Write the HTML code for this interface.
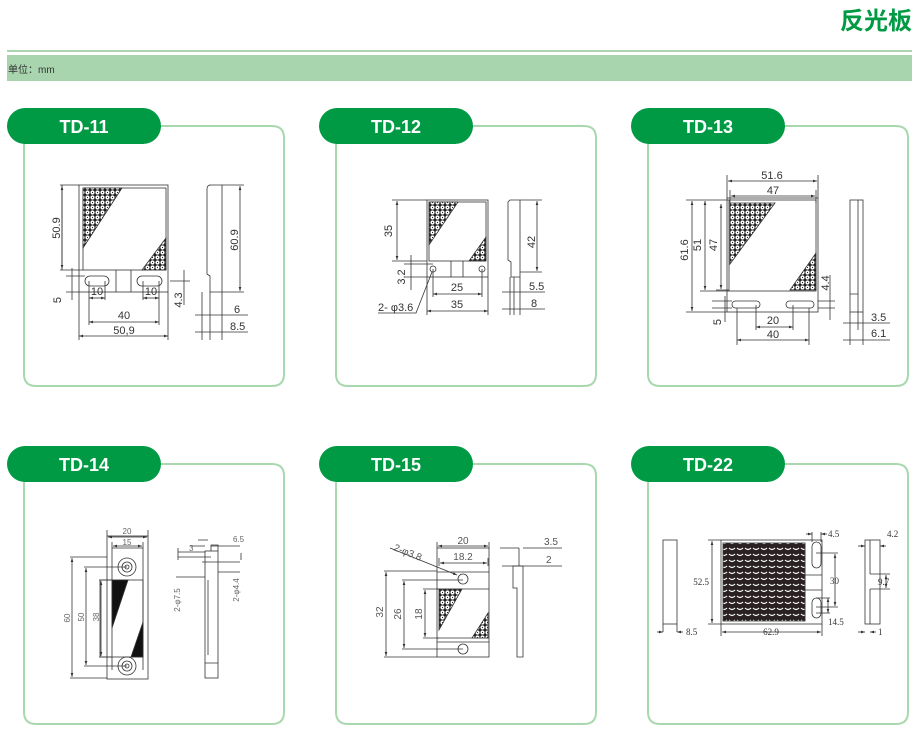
<!DOCTYPE html>
<html><head><meta charset="utf-8"><style>
body{margin:0;background:#fff;}
svg{display:block;font-family:"Liberation Sans","Noto Sans CJK SC",sans-serif;}
</style></head><body>
<svg width="922" height="739" viewBox="0 0 922 739" xmlns="http://www.w3.org/2000/svg">
<defs>
<marker id="a" viewBox="0 0 6 6" refX="6" refY="3" markerWidth="5" markerHeight="5" orient="auto-start-reverse"><path d="M0,1 L6,3 L0,5z" fill="#333"/></marker>
<pattern id="h" width="5" height="5" patternUnits="userSpaceOnUse"><rect width="5" height="5" fill="#222"/><circle cx="2.5" cy="2.5" r="2.1" fill="#fff"/><circle cx="2.5" cy="2.5" r="0.6" fill="#222"/></pattern>
<pattern id="c" width="8" height="6" patternUnits="userSpaceOnUse"><rect width="8" height="6" fill="#2a2222"/><path d="M1,2 Q4,5 7,2" stroke="#fff" stroke-width="1.2" fill="none"/></pattern>
</defs>
<!-- header -->
<text x="912" y="29" text-anchor="end" font-size="24" font-weight="bold" fill="#009a44" font-family="'Noto Sans CJK SC',sans-serif">反光板</text>
<rect x="7" y="50" width="905" height="2" fill="#a8d5ae"/>
<rect x="7" y="55" width="905" height="26" fill="#a8d5ae"/>
<text x="8" y="73" font-size="10" fill="#333">单位：mm</text>

<!-- panels -->
<g fill="none" stroke="#a8d8ad" stroke-width="2">
<path d="M160,126 H272 Q284,126 284,138 V374 Q284,386 272,386 H36 Q24,386 24,374 V143"/>
<path d="M472,126 H584 Q596,126 596,138 V374 Q596,386 584,386 H348 Q336,386 336,374 V143"/>
<path d="M784,126 H896 Q908,126 908,138 V374 Q908,386 896,386 H660 Q648,386 648,374 V143"/>
<path d="M160,464 H272 Q284,464 284,476 V712 Q284,724 272,724 H36 Q24,724 24,712 V481"/>
<path d="M472,464 H584 Q596,464 596,476 V712 Q596,724 584,724 H348 Q336,724 336,712 V481"/>
<path d="M784,464 H896 Q908,464 908,476 V712 Q908,724 896,724 H660 Q648,724 648,712 V481"/>
</g>
<g fill="#009a44">
<rect x="7" y="108" width="154" height="36" rx="18"/>
<rect x="319" y="108" width="154" height="36" rx="18"/>
<rect x="631" y="108" width="154" height="36" rx="18"/>
<rect x="7" y="446" width="154" height="36" rx="18"/>
<rect x="319" y="446" width="154" height="36" rx="18"/>
<rect x="631" y="446" width="154" height="36" rx="18"/>
</g>
<g fill="#fff" font-size="18" font-weight="bold" text-anchor="middle">
<text x="84" y="133">TD-11</text><text x="396" y="133">TD-12</text><text x="708" y="133">TD-13</text>
<text x="84" y="471">TD-14</text><text x="396" y="471">TD-15</text><text x="708" y="471">TD-22</text>
</g>

<g stroke="#333" stroke-width="0.8" fill="none" font-size="11">
<!-- TD-11 -->
<rect x="79" y="185" width="89" height="107"/>
<rect x="83" y="188" width="83" height="82"/>
<path d="M83,188 H122 L83,248Z" fill="url(#h)"/>
<path d="M166,238 V270 H142Z" fill="url(#h)"/>
<rect x="85" y="276" width="24" height="10" rx="5"/><rect x="137" y="276" width="25" height="10" rx="5"/>
<path d="M116,270 V292 M131,270 V292"/>
<path d="M60,185 H79 M60,270 H83 M62,185 V270" />
<line x1="62" y1="186" x2="62" y2="269" marker-start="url(#a)" marker-end="url(#a)"/>
<path d="M66,276 H85 M66,292 H79 M72,268 V300 M184,270 V305 M170,281 H190"/>
<path d="M89,281 V325 M105,281 V300 M143,281 V300 M159,281 V325 M79,292 V340 M168,292 V340"/>
<line x1="89" y1="298" x2="105" y2="298" marker-start="url(#a)" marker-end="url(#a)"/>
<line x1="143" y1="298" x2="159" y2="298" marker-start="url(#a)" marker-end="url(#a)"/>
<line x1="89" y1="322" x2="159" y2="322" marker-start="url(#a)" marker-end="url(#a)"/>
<line x1="79" y1="336" x2="168" y2="336" marker-start="url(#a)" marker-end="url(#a)"/>
<path d="M209,185 H222 V292 H210 V276 L207,274 V189 Q207,185 211,185Z"/>
<path d="M222,185 H244 M222,292 H244 M202,292 V340 M210,292 V340 M222,292 V340"/>
<line x1="240" y1="186" x2="240" y2="291" marker-start="url(#a)" marker-end="url(#a)"/>
<path d="M195,315 H248 M195,332 H248"/>
<!-- TD-12 -->
<rect x="427" y="200" width="61" height="77"/>
<rect x="429" y="202" width="57" height="59"/>
<path d="M429,202 H458 L429,245Z" fill="url(#h)"/>
<path d="M486,237 V261 H469Z" fill="url(#h)"/>
<circle cx="433" cy="269" r="3"/><circle cx="482" cy="269" r="3"/>
<path d="M451,261 V277 M463,261 V277"/>
<path d="M392,200 H427 M392,261 H427"/>
<line x1="397" y1="201" x2="397" y2="260" marker-start="url(#a)" marker-end="url(#a)"/>
<path d="M404,264 H433 M404,277 H427 M411,255 V290"/>
<path d="M433,269 V297 M482,269 V297 M427,277 V315 M488,277 V315"/>
<line x1="433" y1="294" x2="482" y2="294" marker-start="url(#a)" marker-end="url(#a)"/>
<line x1="427" y1="311" x2="488" y2="311" marker-start="url(#a)" marker-end="url(#a)"/>
<path d="M378,313 H416 L432,272"/>
<path d="M510,200 H520 V277 H511 V262 L508,260 V202Z"/>
<path d="M520,200 H542 M520,272 H542 M510,277 V315 M514,277 V315 M520,277 V315"/>
<line x1="537" y1="201" x2="537" y2="271" marker-start="url(#a)" marker-end="url(#a)"/>
<path d="M502,292 H545 M502,309 H545"/>
<!-- TD-13 -->
<rect x="727" y="198" width="91" height="114"/>
<rect x="729" y="200" width="87" height="91"/>
<path d="M730,203 H775 L730,264Z" fill="url(#h)"/>
<path d="M816,253 V290 H790Z" fill="url(#h)"/>
<rect x="732" y="301" width="28" height="7" rx="3.5"/><rect x="786" y="301" width="28" height="7" rx="3.5"/>
<path d="M727,175 V198 M818,175 V198 M730,190 V203 M816,190 V203"/>
<line x1="728" y1="181" x2="817" y2="181" marker-start="url(#a)" marker-end="url(#a)"/>
<line x1="731" y1="196" x2="815" y2="196" marker-start="url(#a)" marker-end="url(#a)"/>
<path d="M686,200 H729 M686,312 H727 M700,291 H729 M716,290 H729"/>
<line x1="692" y1="201" x2="692" y2="311" marker-start="url(#a)" marker-end="url(#a)"/>
<line x1="705" y1="201" x2="705" y2="290" marker-start="url(#a)" marker-end="url(#a)"/>
<line x1="721" y1="204" x2="721" y2="289" marker-start="url(#a)" marker-end="url(#a)"/>
<path d="M712,301 H732 M712,308 H732 M725,296 V322 M818,301 H835 M818,308 H835 M830,275 V320"/>
<path d="M756,305 V330 M793,305 V330 M737,308 V345 M809,308 V345"/>
<line x1="756" y1="327" x2="793" y2="327" marker-start="url(#a)" marker-end="url(#a)"/>
<line x1="737" y1="340" x2="809" y2="340" marker-start="url(#a)" marker-end="url(#a)"/>
<rect x="850" y="200" width="13" height="112"/><path d="M858,200 V312 M850,294 H858"/>
<path d="M850,312 V345 M858,312 V330 M863,312 V345 M843,323 H890 M843,340 H890"/>
<!-- TD-14 -->
<rect x="107" y="536" width="41" height="143"/>
<path d="M112,548 H143 V670 M112,548 V670"/>
<rect x="100" y="580" width="43" height="77"/>
<path d="M112,580 H128 L112,628Z" fill="#111"/><path d="M143,622 V657 H131Z" fill="#111"/>
<circle cx="127" cy="567" r="9"/><circle cx="127" cy="567" r="5"/><circle cx="127" cy="567" r="2"/>
<circle cx="127" cy="666" r="9"/><circle cx="127" cy="666" r="5"/><circle cx="127" cy="666" r="2"/>
<path d="M70,557 H107 M70,678 H107 M84,567 H127 M84,666 H127 M99,580 H112 M99,657 H112"/>
<line x1="72" y1="558" x2="72" y2="677" marker-start="url(#a)" marker-end="url(#a)"/>
<line x1="86" y1="568" x2="86" y2="665" marker-start="url(#a)" marker-end="url(#a)"/>
<line x1="101" y1="581" x2="101" y2="656" marker-start="url(#a)" marker-end="url(#a)"/>
<path d="M107,530 V536 M148,530 V536 M112,542 V548 M143,542 V548"/>
<line x1="108" y1="537" x2="147" y2="537" marker-start="url(#a)" marker-end="url(#a)"/>
<line x1="113" y1="546" x2="142" y2="546" marker-start="url(#a)" marker-end="url(#a)"/>
<rect x="205" y="551" width="13" height="127"/>
<path d="M211,551 V545 H218 V551 M208,580 V655 M205,663 H218"/>
<path d="M178,552 H205 M178,557 H211 M178,548 V560 M202,562 H240 M241,553 V560 M176,577 H205 M218,572 H240"/>
<path d="M190,546 H205 M211,546 H240 M198,540 H208"/>
<!-- TD-15 -->
<rect x="437" y="548" width="52" height="109"/>
<path d="M437,572 H489 M437,589 H489 M437,638 H489 M437,642 H489"/>
<path d="M439,589 H462 L439,630Z" fill="url(#h)"/><path d="M488,613 V638 H472Z" fill="url(#h)"/>
<circle cx="463" cy="579" r="5"/><circle cx="463" cy="649" r="5"/>
<path d="M384,571 H437 M384,657 H437 M402,580 H463 M402,649 H463 M423,589 H439 M423,638 H439"/>
<line x1="386" y1="572" x2="386" y2="656" marker-start="url(#a)" marker-end="url(#a)"/>
<line x1="404" y1="581" x2="404" y2="648" marker-start="url(#a)" marker-end="url(#a)"/>
<line x1="425" y1="590" x2="425" y2="637" marker-start="url(#a)" marker-end="url(#a)"/>
<path d="M437,542 V548 M489,542 V548 M439,558 V566 M488,558 V566"/>
<line x1="438" y1="546" x2="488" y2="546" marker-start="url(#a)" marker-end="url(#a)"/>
<line x1="440" y1="563" x2="487" y2="563" marker-start="url(#a)" marker-end="url(#a)"/>
<line x1="390" y1="548" x2="457" y2="575" marker-end="url(#a)"/>
<path d="M519,548 V566 H523 V657 H517 V588 H513 V566 H519 Z"/>
<path d="M500,548 H519 M523,548 H562 M502,566 H562"/>
<!-- TD-22 -->
<rect x="663" y="540" width="14" height="84"/>
<path d="M663,624 V632 M677,624 V632"/>
<line x1="657" y1="632" x2="663" y2="632" marker-end="url(#a)"/><line x1="683" y1="632" x2="677" y2="632" marker-end="url(#a)"/>
<rect x="721" y="540" width="101" height="84"/>
<rect x="723" y="543" width="82" height="78" fill="url(#c)"/>
<rect x="812" y="542" width="9" height="26" rx="4.5"/><rect x="812" y="598" width="9" height="20" rx="4.5"/>
<path d="M805,575 H822 M805,590 H822 M805,543 V621"/>
<path d="M708,540 H721 M708,624 H721"/>
<line x1="712" y1="541" x2="712" y2="623" marker-start="url(#a)" marker-end="url(#a)"/>
<path d="M721,624 V636 M822,624 V636"/>
<line x1="722" y1="632" x2="821" y2="632" marker-start="url(#a)" marker-end="url(#a)"/>
<path d="M816,553 H838 M816,607 H838 M816,598 H830 M816,613 H830 M812,532 V542 M821,532 V542"/>
<line x1="835" y1="554" x2="835" y2="606" marker-start="url(#a)" marker-end="url(#a)"/>
<line x1="828" y1="598" x2="828" y2="613" marker-start="url(#a)" marker-end="url(#a)"/>
<line x1="806" y1="534" x2="812" y2="534" marker-end="url(#a)"/><line x1="827" y1="534" x2="821" y2="534" marker-end="url(#a)"/>
<rect x="865" y="540" width="15" height="84"/><path d="M870,540 V574 M870,589 V624 M870,574 H880 M870,589 H880"/>
<path d="M880,574 H890 M880,589 H890"/>
<line x1="886" y1="575" x2="886" y2="588" marker-start="url(#a)" marker-end="url(#a)"/>
<line x1="858" y1="546" x2="865" y2="546" marker-end="url(#a)"/><line x1="886" y1="546" x2="880" y2="546" marker-end="url(#a)"/>
<line x1="858" y1="632" x2="865" y2="632" marker-end="url(#a)"/><line x1="876" y1="632" x2="870" y2="632" marker-end="url(#a)"/>
</g>

<g fill="#333" font-size="11">
<text x="60" y="228" transform="rotate(-90 60 228)" text-anchor="middle">50.9</text>
<text x="61" y="300" transform="rotate(-90 61 300)" text-anchor="middle">5</text>
<text x="97" y="295" text-anchor="middle">10</text><text x="151" y="295" text-anchor="middle">10</text>
<text x="124" y="319" text-anchor="middle">40</text><text x="124" y="334" text-anchor="middle">50,9</text>
<text x="182" y="300" transform="rotate(-90 182 300)" text-anchor="middle">4.3</text>
<text x="238" y="240" transform="rotate(-90 238 240)" text-anchor="middle">60.9</text>
<text x="234" y="313">6</text><text x="230" y="330">8.5</text>

<text x="392" y="231" transform="rotate(-90 392 231)" text-anchor="middle">35</text>
<text x="405" y="277" transform="rotate(-90 405 277)" text-anchor="middle">3.2</text>
<text x="457" y="291" text-anchor="middle">25</text><text x="457" y="308" text-anchor="middle">35</text>
<text x="378" y="311">2- φ3.6</text>
<text x="535" y="242" transform="rotate(-90 535 242)" text-anchor="middle">42</text>
<text x="529" y="290">5.5</text><text x="531" y="307">8</text>

<text x="772" y="179" text-anchor="middle">51.6</text><text x="773" y="194" text-anchor="middle">47</text>
<text x="688" y="250" transform="rotate(-90 688 250)" text-anchor="middle">61.6</text>
<text x="701" y="245" transform="rotate(-90 701 245)" text-anchor="middle">51</text>
<text x="717" y="245" transform="rotate(-90 717 245)" text-anchor="middle">47</text>
<text x="829" y="283" transform="rotate(-90 829 283)" text-anchor="middle">4.4</text>
<text x="721" y="322" transform="rotate(-90 721 322)" text-anchor="middle">5</text>
<text x="773" y="324" text-anchor="middle">20</text><text x="773" y="338" text-anchor="middle">40</text>
<text x="871" y="321">3.5</text><text x="871" y="337">6.1</text>
</g>
<g fill="#666" font-size="8">
<text x="127" y="534" text-anchor="middle">20</text><text x="127" y="545" text-anchor="middle">15</text>
<text x="70" y="618" transform="rotate(-90 70 618)" text-anchor="middle">60</text>
<text x="84" y="617" transform="rotate(-90 84 617)" text-anchor="middle">50</text>
<text x="99" y="617" transform="rotate(-90 99 617)" text-anchor="middle">38</text>
<text x="180" y="600" transform="rotate(-90 180 600)" text-anchor="middle">2-φ7.5</text>
<text x="239" y="590" transform="rotate(-90 239 590)" text-anchor="middle">2-φ4.4</text>
<text x="189" y="551">3</text><text x="233" y="542">6.5</text>
</g>
<g fill="#555" font-size="10">
<text x="463" y="544" text-anchor="middle">20</text><text x="463" y="560" text-anchor="middle">18.2</text>
<text x="393" y="550" transform="rotate(22 393 550)">2-φ3.8</text>
<text x="383" y="612" transform="rotate(-90 383 612)" text-anchor="middle">32</text>
<text x="401" y="614" transform="rotate(-90 401 614)" text-anchor="middle">26</text>
<text x="422" y="614" transform="rotate(-90 422 614)" text-anchor="middle">18</text>
<text x="544" y="545">3.5</text><text x="546" y="563">2</text>
</g>
<g fill="#333" font-size="9" font-family="'Liberation Serif',serif">
<text x="686" y="635">8.5</text>
<text x="709" y="585" text-anchor="end">52.5</text>
<text x="771" y="635" text-anchor="middle">62.9</text>
<text x="830" y="584">30</text>
<text x="828" y="537">4.5</text><text x="887" y="537">4.2</text>
<text x="878" y="585">9.7</text>
<text x="828" y="625">14.5</text><text x="878" y="635">1</text>
</g>
</svg>
</body></html>
